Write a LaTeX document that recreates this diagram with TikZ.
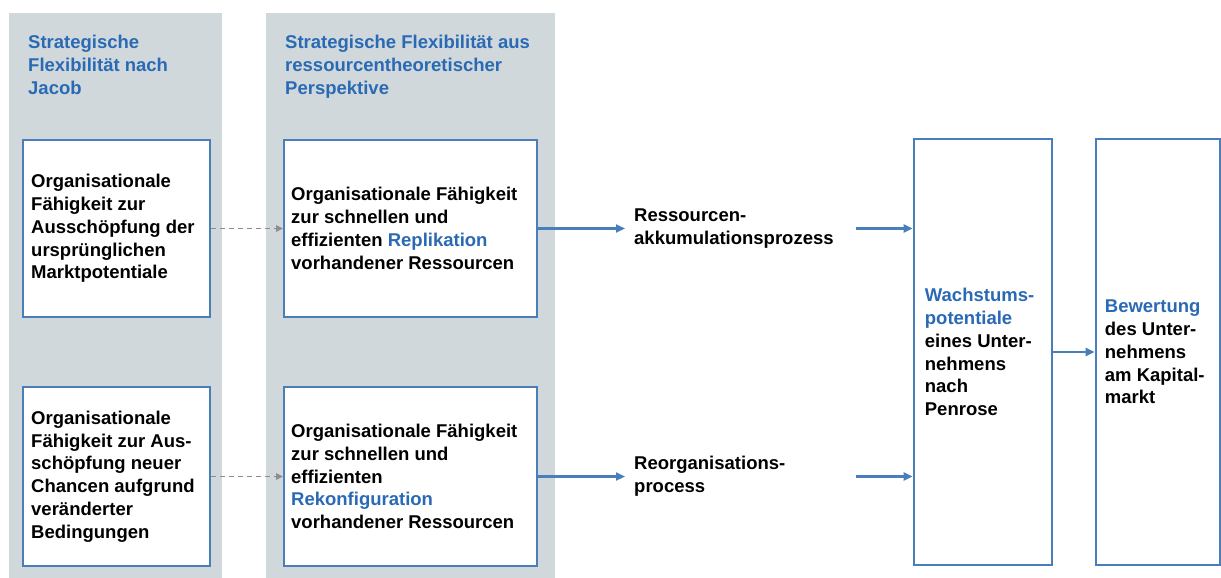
\documentclass[tikz,border=0pt]{standalone}
\usepackage{fontspec}
\setmainfont{Liberation Sans}
\usetikzlibrary{arrows.meta}
\definecolor{panelgray}{RGB}{208,216,220}
\definecolor{frameblue}{RGB}{74,126,187}
\definecolor{headblue}{RGB}{42,106,180}
\definecolor{dashgray}{RGB}{140,140,140}
\tikzset{
  txt/.style={font=\fontsize{18.5}{22.8}\selectfont\bfseries, align=left, inner sep=0pt},
  headtxt/.style={txt, text=headblue, anchor=north west},
  smallbox/.style={draw=frameblue, line width=2pt, fill=white, inner sep=0pt},
  bigbox/.style={draw=frameblue, line width=2.6pt, fill=white, inner sep=0pt},
  proclabel/.style={txt, anchor=west, inner xsep=9pt, text width=213pt, minimum width=231pt},
  flowarrow/.style={draw=frameblue, line width=2.2pt, -{Triangle[length=9pt,width=8pt]}},
  dasharrow/.style={draw=dashgray, line width=1.3pt, dash pattern=on 5pt off 4pt, -{Triangle[length=7pt,width=6.5pt]}},
}
\newcommand{\hl}[1]{\textcolor{headblue}{#1}}
\begin{document}
\begin{tikzpicture}[x=1pt, y=-1pt]
  \useasboundingbox (0,0) rectangle (1221,578);

  % grey column backgrounds
  \fill[panelgray] (9,13) rectangle (222,578);
  \fill[panelgray] (266,13) rectangle (555,578);

  % column headings
  \node[headtxt] (h1) at (28,35) {Strategische\\Flexibilität nach\\Jacob};
  \node[headtxt] (h2) at (285,35) {Strategische Flexibilität aus\\ressourcentheoretischer\\Perspektive};

  % boxes
  \node[smallbox, minimum width=187pt, minimum height=177pt] (l1) at (116.5,228.5) {};
  \node[smallbox, minimum width=187pt, minimum height=179pt] (l2) at (116.5,476.5) {};
  \node[smallbox, minimum width=253pt, minimum height=177pt] (m1) at (410.5,228.5) {};
  \node[smallbox, minimum width=253pt, minimum height=179pt] (m2) at (410.5,476.5) {};
  \node[bigbox, minimum width=138pt, minimum height=426pt] (w) at (983,352) {};
  \node[bigbox, minimum width=124pt, minimum height=426pt] (b) at (1158,352) {};

  % box texts
  \node[txt, anchor=west] (l1t) at ([xshift=9pt]l1.west)
    {Organisationale\\Fähigkeit zur\\Ausschöpfung der\\ursprünglichen\\Marktpotentiale};
  \node[txt, anchor=west] (l2t) at ([xshift=9pt]l2.west)
    {Organisationale\\Fähigkeit zur Aus-\\schöpfung neuer\\Chancen aufgrund\\veränderter\\Bedingungen};
  \node[txt, anchor=west] (m1t) at ([xshift=8pt]m1.west)
    {Organisationale Fähigkeit\\zur schnellen und\\effizienten \hl{Replikation}\\vorhandener Ressourcen};
  \node[txt, anchor=west] (m2t) at ([xshift=8pt]m2.west)
    {Organisationale Fähigkeit\\zur schnellen und\\effizienten\\\hl{Rekonfiguration}\\vorhandener Ressourcen};
  \node[txt, anchor=west] (wt) at ([xshift=12pt]w.west)
    {\hl{Wachstums-}\\\hl{potentiale}\\eines Unter-\\nehmens\\nach\\Penrose};
  \node[txt, anchor=west] (bt) at ([xshift=10pt]b.west)
    {\hl{Bewertung}\\des Unter-\\nehmens\\am Kapital-\\markt};

  % process labels
  \node[proclabel] (res) at (625,228.5) {Ressourcen-\\akkumulationsprozess};
  \node[proclabel] (reo) at (625,476.5) {Reorganisations-\\process};

  % connectors
  \draw[dasharrow] (l1.east) -- (m1.west);
  \draw[dasharrow] (l2.east) -- (m2.west);
  \draw[flowarrow] (m1.east) -- (res.west);
  \draw[flowarrow] (m2.east) -- (reo.west);
  \draw[flowarrow] (res.east) -- (res.east -| w.west);
  \draw[flowarrow] (reo.east) -- (reo.east -| w.west);
  \draw[flowarrow] (w.east) -- (b.west);
\end{tikzpicture}
\end{document}
